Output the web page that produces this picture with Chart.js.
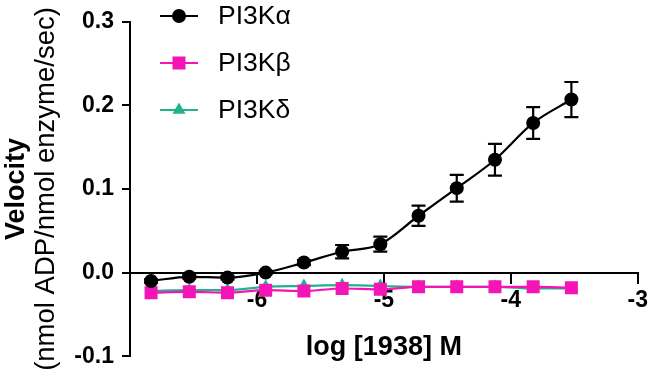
<!DOCTYPE html>
<html>
<head>
<meta charset="utf-8">
<script src="https://cdn.jsdelivr.net/npm/chart.js@4.4.0/dist/chart.umd.min.js"></script>
<style>
  html, body { margin: 0; padding: 0; background: #fff; }
  #wrap { width: 652px; height: 378px; }
</style>
</head>
<body>
<div id="wrap"><canvas id="velChart" width="652" height="378"></canvas></div>
<script>
// ---- datos ----
const logConc = [-6.834, -6.533, -6.232, -5.931, -5.630, -5.329, -5.028, -4.727, -4.426, -4.125, -3.824, -3.523];
const alphaVel = [-0.010, -0.005, -0.006, 0.000, 0.012, 0.025, 0.034, 0.068, 0.101, 0.135, 0.179, 0.207];
const alphaErr = [0.002, 0.002, 0.002, 0.002, 0.003, 0.008, 0.009, 0.012, 0.016, 0.019, 0.019, 0.021];
const betaVel = [-0.024, -0.023, -0.024, -0.021, -0.022, -0.019, -0.020, -0.017, -0.017, -0.017, -0.017, -0.018];
const deltaVel = [-0.022, -0.021, -0.021, -0.017, -0.016, -0.015, -0.016, -0.017, -0.017, -0.017, -0.019, -0.019];
const seriesNames = ['PI3Kα', 'PI3Kβ', 'PI3Kδ'];
const yTicks = [-0.1, 0.0, 0.1, 0.2, 0.3];
const xTicks = [-6, -5, -4, -3];

const FONT = '"Liberation Sans", Arial, Helvetica, sans-serif';
const COLORS = ['#000000', '#f514b6', '#22b38c'];
const STYLES = ['circle', 'rect', 'triangle'];
const RADII = [7, 9.2, 7.5];

const toPoints = (ys) => logConc.map((x, i) => ({ x: x, y: ys[i] }));

// barras de error (SEM) para PI3Kα
const errorBars = {
    id: 'errorBars',
    afterDatasetsDraw(chart) {
        const { ctx, scales: { x, y } } = chart;
        ctx.save();
        ctx.strokeStyle = '#000';
        ctx.lineWidth = 2.2;
        logConc.forEach((lc, i) => {
            const px = x.getPixelForValue(lc);
            const top = y.getPixelForValue(alphaVel[i] + alphaErr[i]);
            const bot = y.getPixelForValue(alphaVel[i] - alphaErr[i]);
            ctx.beginPath();
            ctx.moveTo(px, top); ctx.lineTo(px, bot);
            ctx.moveTo(px - 7, top); ctx.lineTo(px + 7, top);
            ctx.moveTo(px - 7, bot); ctx.lineTo(px + 7, bot);
            ctx.stroke();
        });
        ctx.restore();
    }
};

// titulo del eje Y (dos lineas, una en negrita) + leyenda con linea y marcador
const extras = {
    id: 'extras',
    afterDraw(chart) {
        const { ctx, chartArea } = chart;
        const cy = (chartArea.top + chartArea.bottom) / 2;
        ctx.save();
        ctx.translate(0, cy);
        ctx.rotate(-Math.PI / 2);
        ctx.fillStyle = '#000';
        ctx.textAlign = 'center';
        ctx.textBaseline = 'alphabetic';
        ctx.font = 'bold 27px ' + FONT;
        ctx.fillText('Velocity', 0, 24);
        ctx.font = '27.5px ' + FONT;
        ctx.fillText('(nmol ADP/nmol enzyme/sec)', 0, 54);
        ctx.restore();

        ctx.save();
        seriesNames.forEach((name, i) => {
            const rowY = 16 + i * 47;
            ctx.strokeStyle = COLORS[i];
            ctx.fillStyle = COLORS[i];
            ctx.lineWidth = 2;
            ctx.beginPath();
            ctx.moveTo(160, rowY); ctx.lineTo(198, rowY);
            ctx.stroke();
            Chart.helpers.drawPoint(ctx, { pointStyle: STYLES[i], radius: RADII[i], rotation: 0, borderWidth: 0 }, 179, rowY);
            ctx.fillStyle = '#000';
            ctx.font = '26.5px ' + FONT;
            ctx.textAlign = 'left';
            ctx.textBaseline = 'middle';
            ctx.fillText(name, 218, rowY + 1);
        });
        ctx.restore();
    }
};

const makeSet = (i, ys) => ({
    label: seriesNames[i],
    data: toPoints(ys),
    borderColor: COLORS[i],
    backgroundColor: COLORS[i],
    borderWidth: 2.2,
    pointStyle: STYLES[i],
    pointRadius: RADII[i],
    pointBorderWidth: 0,
    cubicInterpolationMode: 'monotone',
    fill: false
});

new Chart(document.getElementById('velChart'), {
    type: 'line',
    data: {
        datasets: [makeSet(0, alphaVel), makeSet(1, betaVel), makeSet(2, deltaVel)]
    },
    options: {
        responsive: false,
        animation: false,
        layout: { padding: { left: 0, right: 12, top: 19, bottom: 20 } },
        plugins: { legend: { display: false }, tooltip: { enabled: false } },
        scales: {
            x: {
                type: 'linear',
                position: { y: 0 },
                min: -7,
                max: -3,
                afterBuildTicks: (s) => { s.ticks = xTicks.map(v => ({ value: v })); },
                ticks: {
                    color: '#000',
                    padding: 4,
                    maxRotation: 0,
                    font: { family: FONT, size: 23, weight: 'bold' },
                    callback: (v) => String(v)
                },
                grid: { drawOnChartArea: false, drawTicks: true, tickLength: 10, color: '#000', lineWidth: 2 },
                border: { display: true, color: '#000', width: 2 },
                title: {
                    display: true,
                    text: 'log [1938] M',
                    color: '#000',
                    padding: { top: 13, bottom: 0 },
                    font: { family: FONT, size: 27, weight: 'bold' }
                }
            },
            y: {
                type: 'linear',
                min: -0.1,
                max: 0.3,
                afterBuildTicks: (s) => { s.ticks = yTicks.map(v => ({ value: v })); },
                afterFit: (s) => { s.width = 130; },
                ticks: {
                    color: '#000',
                    padding: 8,
                    font: { family: FONT, size: 23, weight: 'bold' },
                    callback: (v) => (Math.round(v * 10) / 10).toFixed(1)
                },
                grid: { drawOnChartArea: false, drawTicks: true, tickLength: 8, color: '#000', lineWidth: 2 },
                border: { display: true, color: '#000', width: 2 }
            }
        }
    },
    plugins: [errorBars, extras]
});
</script>
</body>
</html>
